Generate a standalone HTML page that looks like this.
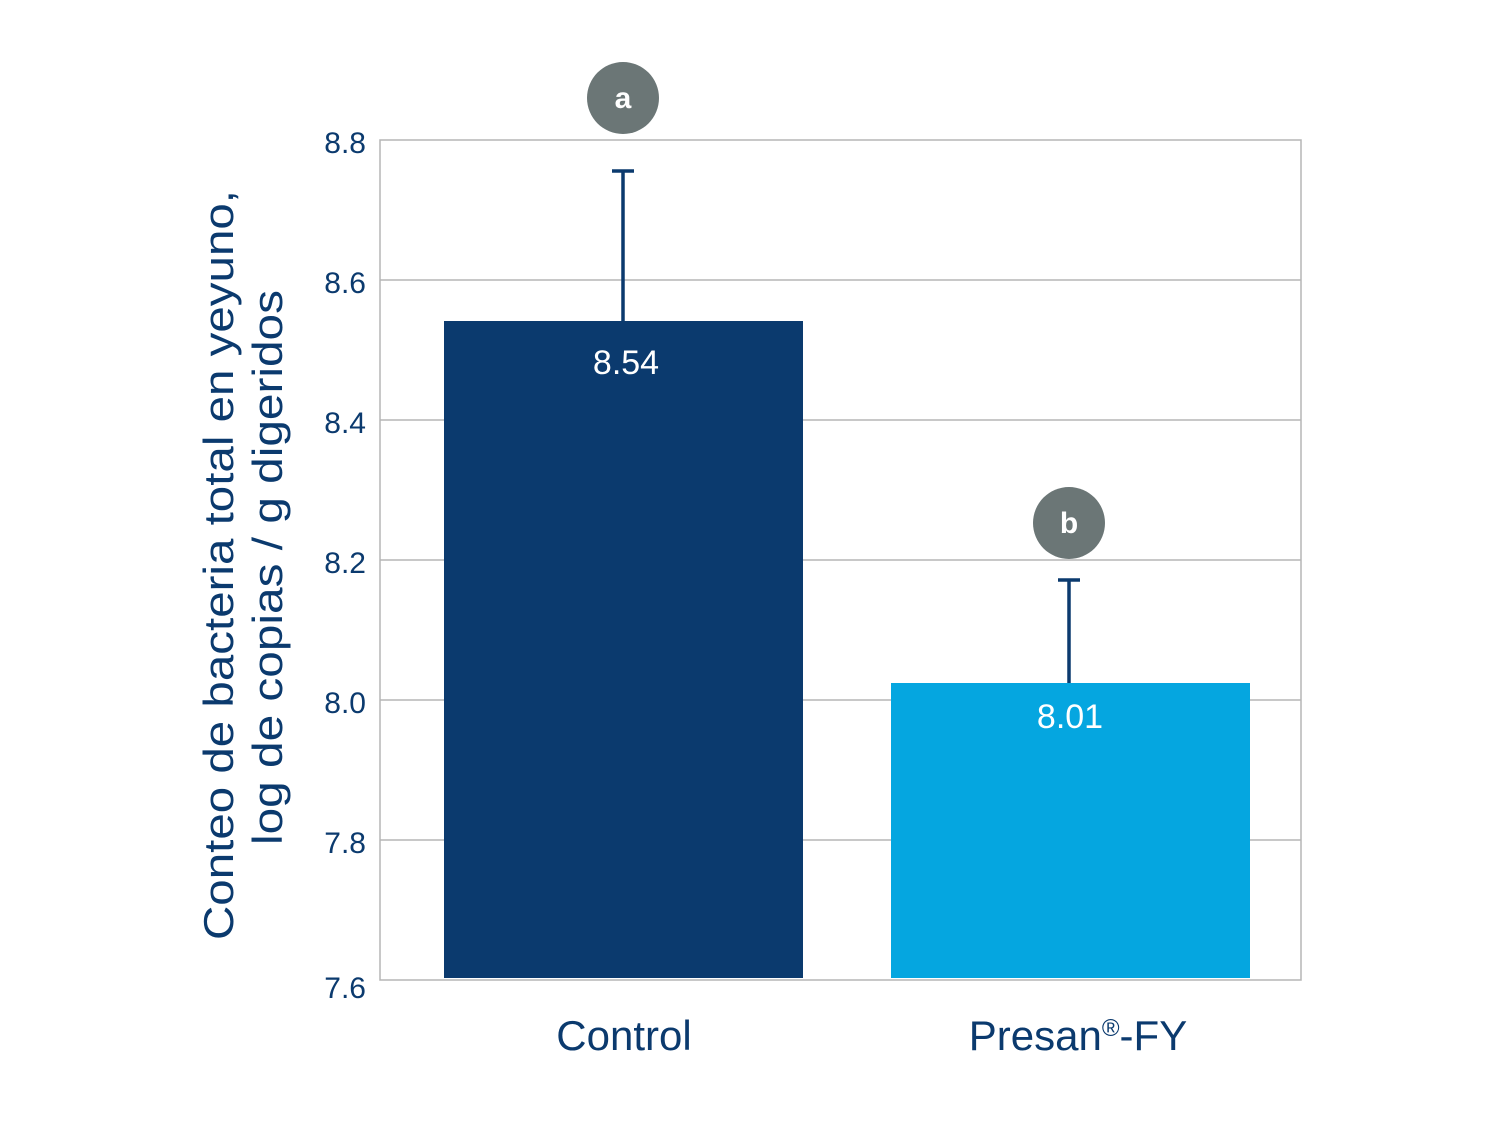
<!DOCTYPE html>
<html><head><meta charset="utf-8"><style>
body{margin:0;background:#fff}
</style></head><body>
<svg width="1500" height="1125" xmlns="http://www.w3.org/2000/svg" font-family="'Liberation Sans', sans-serif">
<rect width="1500" height="1125" fill="#fff"/>
<g stroke="#b5b5b5" stroke-width="1.5">
<line x1="380" y1="280" x2="1301" y2="280"/>
<line x1="380" y1="420" x2="1301" y2="420"/>
<line x1="380" y1="560" x2="1301" y2="560"/>
<line x1="380" y1="700" x2="1301" y2="700"/>
<line x1="380" y1="840" x2="1301" y2="840"/>
</g>
<rect x="380" y="140" width="921" height="840" fill="none" stroke="#b5b5b5" stroke-width="1.5"/>
<g fill="#0b3a6e" font-size="30" text-anchor="end">
<text x="366" y="153">8.8</text>
<text x="366" y="293">8.6</text>
<text x="366" y="433">8.4</text>
<text x="366" y="573">8.2</text>
<text x="366" y="713">8.0</text>
<text x="366" y="853">7.8</text>
<text x="366" y="998">7.6</text>
</g>
<rect x="444" y="321" width="359" height="657" fill="#0b3a6e"/>
<rect x="891" y="683" width="359" height="295" fill="#05a6e0"/>
<g stroke="#0b3a6e" stroke-width="3.5">
<line x1="623" y1="171" x2="623" y2="321"/>
<line x1="612" y1="171" x2="634" y2="171"/>
<line x1="1069" y1="580" x2="1069" y2="683"/>
<line x1="1058" y1="580" x2="1080" y2="580"/>
</g>
<circle cx="623" cy="98" r="36" fill="#6b7676"/>
<circle cx="1069" cy="523" r="36" fill="#6b7676"/>
<g fill="#fff" font-size="30" font-weight="bold" text-anchor="middle">
<text x="623" y="108">a</text>
<text x="1069" y="533">b</text>
</g>
<g fill="#fff" font-size="34" text-anchor="middle">
<text x="626" y="374">8.54</text>
<text x="1070" y="728">8.01</text>
</g>
<g fill="#0b3a6e" font-size="42" text-anchor="middle">
<text x="624" y="1050">Control</text>
<text x="1078" y="1050">Presan<tspan font-size="24" dy="-14">®</tspan><tspan dy="14">-FY</tspan></text>
</g>
<g fill="#0b3a6e" font-size="42">
<text transform="translate(233,940) rotate(-90)" textLength="750" lengthAdjust="spacingAndGlyphs">Conteo de bacteria total en yeyuno,</text>
<text transform="translate(282,845) rotate(-90)" textLength="555" lengthAdjust="spacingAndGlyphs">log de copias / g digeridos</text>
</g>
</svg>
</body></html>
